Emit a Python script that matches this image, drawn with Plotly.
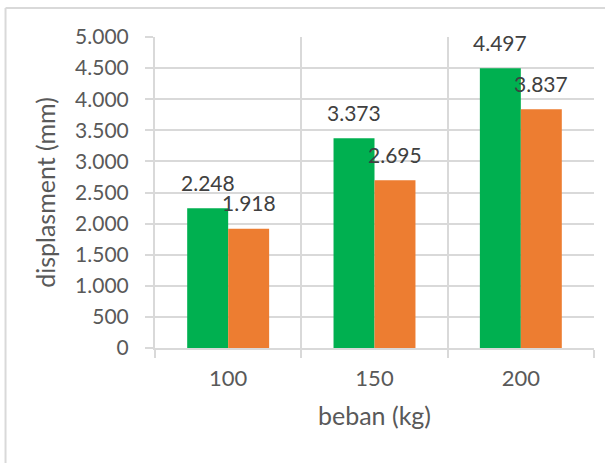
import plotly.graph_objects as go

# Load categories (kg) and measured displacement per series
beban = ["100", "150", "200"]
seri_hijau = [2248, 3373, 4497]
seri_oranye = [1918, 2695, 3837]

HIJAU = "#00b050"
ORANYE = "#ed7d31"
GRID = "#d9d9d9"
FONT = "Lato"
TXT = "#595959"

fig = go.Figure()
fig.add_trace(go.Bar(x=beban, y=seri_hijau, marker=dict(color=HIJAU, line=dict(width=0)), name="A"))
fig.add_trace(go.Bar(x=beban, y=seri_oranye, marker=dict(color=ORANYE, line=dict(width=0)), name="B"))

# Value labels above each bar, formatted with '.' as thousands separator
def fmt(v):
    return f"{v:,d}".replace(",", ".")

for vals, dx in ((seri_hijau, -20.5), (seri_oranye, 20.5)):
    for i, v in enumerate(vals):
        fig.add_annotation(
            x=i, y=v, xref="x", yref="y", text=fmt(v), showarrow=False,
            xshift=dx, yshift=26, font=dict(family=FONT, size=21, color="#404040"),
        )

# Outer chart frame (left and top edges)
fig.add_shape(type="line", xref="paper", yref="paper", x0=-0.3405, x1=1.05, y0=1.093, y1=1.093,
              line=dict(color=GRID, width=2))
fig.add_shape(type="line", xref="paper", yref="paper", x0=-0.3405, x1=-0.3405, y0=1.093, y1=-0.38,
              line=dict(color=GRID, width=2))

fig.update_layout(
    width=605, height=463,
    margin=dict(l=155, r=11, t=37, b=115),
    paper_bgcolor="white", plot_bgcolor="white",
    barmode="group", bargap=0.44, bargroupgap=0,
    showlegend=False,
    separators=",.",
    font=dict(family=FONT, size=21, color=TXT),
)
fig.update_xaxes(
    type="category", range=[-0.5, 2.5], tickson="boundaries", ticks="outside", ticklen=8, tickwidth=2,
    tickcolor=GRID, showgrid=True, gridcolor=GRID, gridwidth=2,
    showline=True, linecolor=GRID, linewidth=2, ticklabelstandoff=10,
    title=dict(text="beban (kg)", font=dict(family=FONT, size=25, color=TXT), standoff=17),
    tickfont=dict(family=FONT, size=22, color=TXT),
)
fig.update_yaxes(
    range=[0, 5000], dtick=500, tickformat=",d", ticks="outside", ticklen=8, tickwidth=2,
    tickcolor=GRID, showgrid=True, gridcolor=GRID, gridwidth=2,
    showline=True, linecolor=GRID, linewidth=2, zeroline=False, ticklabelstandoff=12,
    title=dict(text="displasment (mm)", font=dict(family=FONT, size=25, color=TXT), standoff=12),
    tickfont=dict(family=FONT, size=21, color=TXT),
)

fig.write_html("out.html")
